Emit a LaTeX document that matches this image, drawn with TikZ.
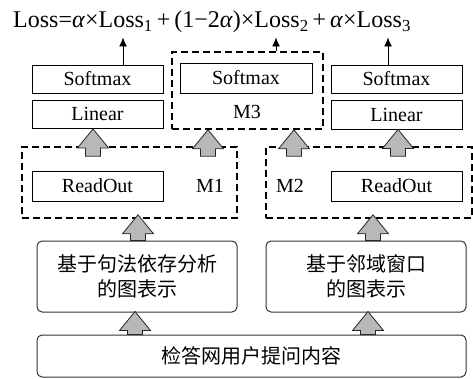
\documentclass[tikz,border=0pt]{standalone}
\usepackage{fontspec}
\setmainfont{Liberation Serif}
\newfontfamily\cjk{Noto Sans CJK SC}
\usetikzlibrary{calc,arrows.meta}
\tikzset{
  box/.style={draw, line width=0.9pt, minimum width=131pt, minimum height=28pt, inner sep=0pt, font=\fontsize{20}{22}\selectfont},
  dbox/.style={draw, line width=1.6pt, dash pattern=on 7pt off 4pt, inner sep=0pt},
  rbox/.style={draw=black!80, line width=1pt, rounded corners=5pt, inner sep=0pt, align=center, font=\cjk\fontsize{20}{25}\selectfont},
  lbl/.style={inner sep=0pt, font=\fontsize{20}{22}\selectfont},
  barrowstyle/.style={draw=black!85, line width=0.8pt, fill=black!28},
  thinarrow/.style={line width=0.9pt, -{Latex[length=9pt,width=8pt]}}
}
\newcommand\blockarrow[2]{\path[barrowstyle] let \p1=#1, \p2=#2 in
  (\x1-7.5pt,\y1) -- (\x1-7.5pt,\y2-19pt) -- (\x1-15.5pt,\y2-19pt) -- (\x1,\y2)
  -- (\x1+15.5pt,\y2-19pt) -- (\x1+7.5pt,\y2-19pt) -- (\x1+7.5pt,\y1) -- cycle;}
\begin{document}
\begin{tikzpicture}[x=1pt,y=-1pt]
\useasboundingbox (0,0) rectangle (473,379);
% formula
\node[anchor=base west, inner sep=0pt, font=\fontsize{24}{26}\selectfont] (f) at (13,28)
  {Loss=\textit{α}×Loss\textsubscript{1}\,+\,(1−2\textit{α})×Loss\textsubscript{2}\,+\,\textit{α}×Loss\textsubscript{3}};
% top row
\node[dbox, minimum width=151pt, minimum height=77pt] (m3) at (247.5,90.5) {};
\node[box] (sm1) at (97.5,79) {Softmax};
\node[box] (lin1) at (97.5,114) {Linear};
\node[box, minimum width=132pt, minimum height=30pt] (sm3) at (246,78) {Softmax};
\node[lbl] (m3l) at (247,112) {M3};
\node[box] (sm2) at (396.5,79) {Softmax};
\node[box, minimum height=29pt] (lin3) at (396.5,114.5) {Linear};
% middle row
\node[dbox, minimum width=215pt, minimum height=71pt] (m1) at (129.5,182.5) {};
\node[dbox, minimum width=206pt, minimum height=71pt] (m2) at (369,182.5) {};
\node[box, minimum height=30pt] (ro1) at (97.5,186) {ReadOut};
\node[box, minimum height=30pt] (ro2) at (396.5,186) {ReadOut};
\node[lbl] (m1l) at (210,186) {M1};
\node[lbl] (m2l) at (290,186) {M2};
% lower boxes
\node[rbox, minimum width=200pt, minimum height=71pt] (b1) at (137,276.5) {基于句法依存分析\\的图表示};
\node[rbox, minimum width=200pt, minimum height=71pt] (b2) at (366,276.5) {基于邻域窗口\\的图表示};
\node[rbox, minimum width=429pt, minimum height=42pt] (b3) at (251.5,356) {检答网用户提问内容};
% thin arrows
\coordinate (t1) at (123,37.5);
\coordinate (t2) at (276,37.5);
\coordinate (t3) at (388,37.5);
\draw[thinarrow] (sm1.north -| t1) -- (t1);
\draw[thinarrow] (m3.north -| t2) -- (t2);
\draw[thinarrow] (sm2.north -| t3) -- (t3);
% block arrows
\blockarrow{($(m1.north)+(-36.5,10)$)}{($(lin1.south)+(0,0.5)$)}
\blockarrow{($(m1.north)+(78.5,10)$)}{(m3.south)}
\blockarrow{($(m2.north)+(-75,10)$)}{(m3.south)}
\blockarrow{($(m2.north)+(29,10)$)}{(lin3.south)}
\blockarrow{($(b1.north)+(1,0)$)}{($(m1.south)+(0,-4)$)}
\blockarrow{($(b2.north)+(7,0)$)}{($(m2.south)+(0,-4)$)}
\blockarrow{($(b3.north)+(-116.5,0)$)}{($(b1.south)+(0,-1)$)}
\blockarrow{($(b3.north)+(116.5,0)$)}{($(b2.south)+(0,-1)$)}
\end{tikzpicture}
\end{document}
